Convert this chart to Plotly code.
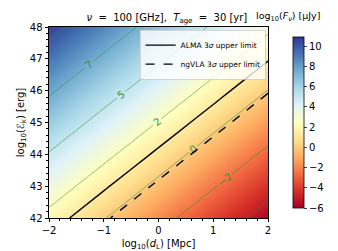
import numpy as np
import plotly.graph_objects as go

# log10(d_L) [Mpc] grid
x_vals = [-2.0, -1.0, 0.0, 1.0, 2.0]
# log10(E_k) [erg] grid
y_vals = [42.0, 43.0, 44.0, 45.0, 46.0, 47.0, 48.0]
# log10(F_nu) [uJy], rows follow y_vals, columns follow x_vals
z_row_42 = [2.03, 0.09, -1.86, -3.80, -5.75]
z_row_43 = [3.46, 1.51, -0.43, -2.37, -4.32]
z_row_44 = [4.89, 2.94, 1.00, -0.94, -2.89]
z_row_45 = [6.32, 4.37, 2.43, 0.49, -1.46]
z_row_46 = [7.75, 5.80, 3.86, 1.92, -0.03]
z_row_47 = [9.18, 7.23, 5.29, 3.35, 1.40]
z_row_48 = [10.61, 8.66, 6.72, 4.78, 2.83]
z_vals = [z_row_42, z_row_43, z_row_44, z_row_45, z_row_46, z_row_47, z_row_48]

contour_levels = list(np.linspace(-5, 10, 7))   # labelled with truncation (%d)
alma_level = 1.3
ngvla_level = -0.15
cbar_min, cbar_max = -6.0, 10.9

z = np.array(z_vals)
font = "DejaVu Sans"
green_line = "rgba(40,150,40,0.6)"
green_text = "rgb(60,140,60)"

fig = go.Figure()
fig.add_trace(go.Heatmap(
    x=x_vals, y=y_vals, z=z, zsmooth="best", colorscale="RdYlBu",
    zmin=cbar_min, zmax=cbar_max,
    colorbar=dict(x=1.0667, xanchor="left", y=0.5, yanchor="middle", len=1.0,
                  thickness=11, outlinewidth=0.8, outlinecolor="black",
                  tickmode="linear", tick0=-6, dtick=2, ticks="outside", ticklen=3,
                  tickfont=dict(family=font, size=10, color="black")),
    hoverinfo="skip"))

for lev in contour_levels:
    lab = int(lev)
    shift = lev - lab
    fig.add_trace(go.Contour(
        x=x_vals, y=y_vals, z=z - shift, autocontour=False,
        contours=dict(start=lab, end=lab, size=1, coloring="none", showlabels=True,
                      labelfont=dict(family=font, size=10, color=green_text)),
        line=dict(color=green_line, width=0.9), showscale=False, showlegend=False,
        hoverinfo="skip"))

fig.add_trace(go.Contour(
    x=x_vals, y=y_vals, z=z, autocontour=False,
    contours=dict(start=alma_level, end=alma_level, size=1, coloring="none"),
    line=dict(color="black", width=1.4), showscale=False, showlegend=False, hoverinfo="skip"))
fig.add_trace(go.Contour(
    x=x_vals, y=y_vals, z=z, autocontour=False,
    contours=dict(start=ngvla_level, end=ngvla_level, size=1, coloring="none"),
    line=dict(color="black", width=1.4, dash="dash"), showscale=False, showlegend=False,
    hoverinfo="skip"))

fig.add_trace(go.Scatter(x=[None], y=[None], mode="lines", name="ALMA 3<i>σ</i> upper limit",
                         line=dict(color="black", width=1.4)))
fig.add_trace(go.Scatter(x=[None], y=[None], mode="lines", name="ngVLA 3<i>σ</i> upper limit",
                         line=dict(color="black", width=1.4, dash="dash")))

axis_common = dict(showgrid=False, zeroline=False, showline=True, linecolor="black",
                   linewidth=0.8, mirror=True, ticks="outside", ticklen=3.5, tickwidth=0.8,
                   tickcolor="black", tickfont=dict(family=font, size=10, color="black"),
                   minor=dict(dtick=0.2, ticks="outside", ticklen=2, tickwidth=0.6,
                              tickcolor="black"))

fig.update_layout(
    width=338, height=251,
    margin=dict(l=39, r=59, t=19, b=36),
    paper_bgcolor="white", plot_bgcolor="white",
    font=dict(family=font, size=10, color="black"),
    title=dict(text="<i>ν</i>  =  100 [GHz],  <i>T</i><sub>age</sub>  =  30 [yr]",
               x=0.47, xanchor="center", y=0.975, yanchor="top",
               font=dict(family=font, size=10)),
    xaxis=dict(range=[-2, 2], dtick=1, tick0=0,
               title=dict(text="log<sub>10</sub>(<i>d</i><sub>L</sub>) [Mpc]",
                          font=dict(family=font, size=10), standoff=4),
               **axis_common),
    yaxis=dict(range=[42, 48], dtick=1, tick0=42,
               title=dict(text="log<sub>10</sub>(<i>ℰ</i><sub>k</sub>) [erg]",
                          font=dict(family=font, size=10), standoff=3),
               **axis_common),
    legend=dict(x=0.99, xanchor="right", y=0.985, yanchor="top",
                bgcolor="rgba(255,255,255,0.8)", bordercolor="#cccccc", borderwidth=0.8,
                font=dict(family=font, size=7.5), itemwidth=30, tracegroupgap=0),
    annotations=[dict(text="log<sub>10</sub>(<i>F</i><sub><i>ν</i></sub>) [μJy]",
                      xref="paper", yref="paper", x=1.245, xanchor="right",
                      y=1.0, yanchor="bottom", yshift=2, showarrow=False,
                      font=dict(family=font, size=9.5))],
)

fig.write_html("out.html")
